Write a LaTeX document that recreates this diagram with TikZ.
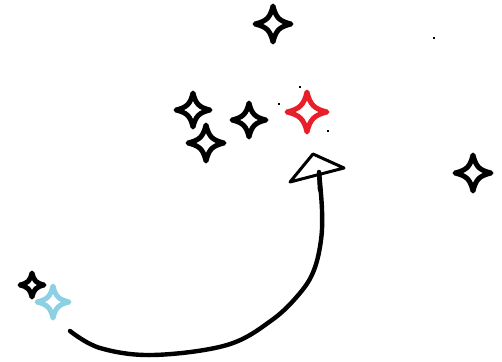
\documentclass[tikz,border=0pt]{standalone}
\definecolor{starred}{RGB}{232,30,40}
\definecolor{starblue}{RGB}{140,208,228}
\tikzset{
  sparkle/.style={line width=5pt, line join=round, fill=white},
  dot/.style={fill=black, inner sep=0pt, minimum size=2.4pt, shape=rectangle},
  curvearrow/.style={line width=4.4pt, line cap=round},
  headtri/.style={line width=3pt, line join=round, fill=white},
}
\newcommand{\sparklestar}[4]{% x, y, r, colour
  \draw[sparkle, draw=#4] (#1+#3,#2)
    .. controls (#1+0.35*#3,#2+0.16*#3) and (#1+0.16*#3,#2+0.35*#3) .. (#1,#2+#3)
    .. controls (#1-0.16*#3,#2+0.35*#3) and (#1-0.35*#3,#2+0.16*#3) .. (#1-#3,#2)
    .. controls (#1-0.35*#3,#2-0.16*#3) and (#1-0.16*#3,#2-0.35*#3) .. (#1,#2-#3)
    .. controls (#1+0.16*#3,#2-0.35*#3) and (#1+0.35*#3,#2-0.16*#3) .. cycle;}
\begin{document}
\begin{tikzpicture}[x=1pt,y=-1pt]
\useasboundingbox (0,0) rectangle (502,361);
% stars
\sparklestar{273}{24}{18}{black}
\sparklestar{473}{173}{18}{black}
\sparklestar{193}{110}{17}{black}
\sparklestar{206}{143}{18}{black}
\sparklestar{249}{120}{17}{black}
\sparklestar{307}{112}{20}{starred}
\sparklestar{32}{285}{12}{black}
\sparklestar{53}{302}{16}{starblue}
% dots
\node[dot] (d1) at (279,104) {};
\node[dot] (d2) at (300,87) {};
\node[dot] (d3) at (328,131) {};
\node[dot] (d4) at (434,38) {};
% arrow
\coordinate (s) at (70,331);
\coordinate (e) at (319,172);
\draw[curvearrow] plot[smooth, tension=0.6] coordinates {(s) (100,348) (153,355) (227,345) (272,320) (300,293) (314,270) (321,240) (322,210) (e)};
\draw[headtri] (290,182) -- (313,154) -- (344,168) -- cycle;
\draw[line width=2pt] (313,154) -- (344,168);
\draw[curvearrow] (320,190) -- (e);
\end{tikzpicture}
\end{document}
